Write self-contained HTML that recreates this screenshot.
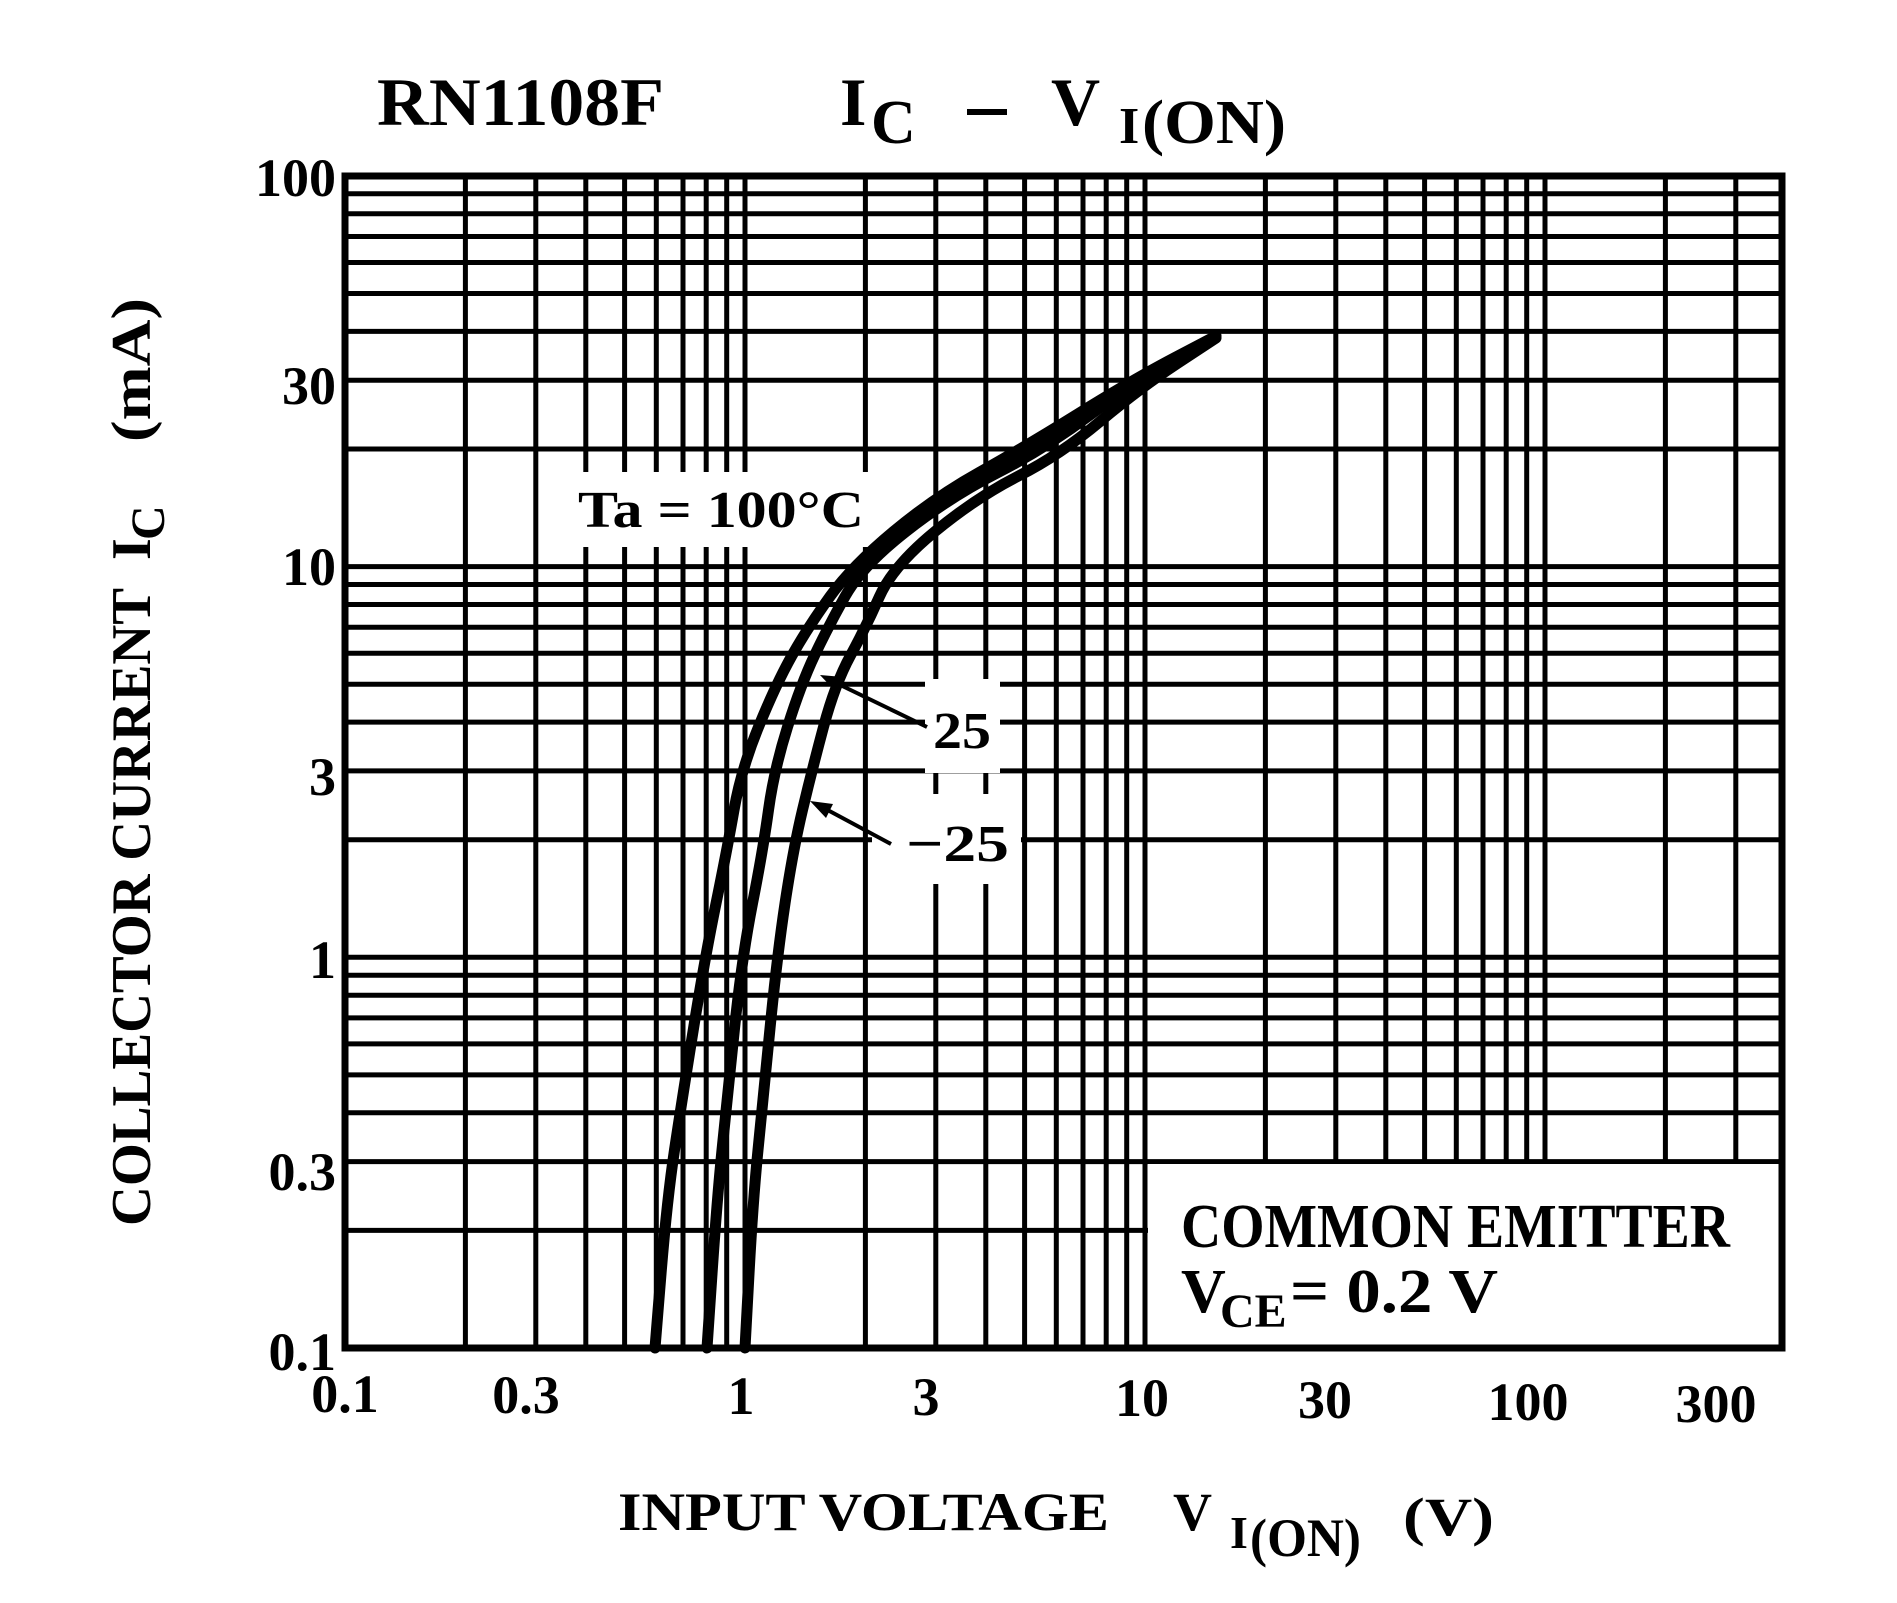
<!DOCTYPE html>
<html><head><meta charset="utf-8"><style>
html,body{margin:0;padding:0;background:#fff;}
svg{display:block;}
text{font-family:"Liberation Serif",serif;font-weight:bold;fill:#000;}
</style></head><body>
<svg width="1897" height="1603" viewBox="0 0 1897 1603" xmlns="http://www.w3.org/2000/svg">
<rect width="1897" height="1603" fill="#fff"/>
<g stroke="#000" stroke-width="5" fill="none">
<path d="M465.4 176V1348M535.8 176V1348M585.8 176V1348M624.6 176V1348M656.3 176V1348M683 176V1348M706.2 176V1348M726.7 176V1348M745 176V1348M865.4 176V1348M935.8 176V1348M985.8 176V1348M1024.6 176V1348M1056.3 176V1348M1083 176V1348M1106.2 176V1348M1126.7 176V1348M1145 176V1348M1265.4 176V1348M1335.8 176V1348M1385.8 176V1348M1424.6 176V1348M1456.3 176V1348M1483 176V1348M1506.2 176V1348M1526.7 176V1348M1545 176V1348M1665.4 176V1348M1735.8 176V1348"/>
<path d="M345 1230.4H1782M345 1161.6H1782M345 1112.8H1782M345 1074.9H1782M345 1043.9H1782M345 1017.9H1782M345 995.2H1782M345 975.2H1782M345 957.3H1782M345 839.7H1782M345 770.9H1782M345 722.1H1782M345 684.2H1782M345 653.2H1782M345 627.2H1782M345 604.5H1782M345 584.5H1782M345 566.6H1782M345 449H1782M345 380.2H1782M345 331.4H1782M345 293.5H1782M345 262.5H1782M345 236.5H1782M345 213.8H1782M345 193.8H1782"/>
</g>
<g fill="#fff">
<rect x="570" y="472" width="310" height="75"/>
<rect x="925" y="679" width="75" height="94"/>
<rect x="872" y="794" width="149" height="90"/>
<rect x="1148" y="1164" width="631" height="182"/>
</g>
<rect x="345" y="176" width="1437" height="1172" fill="none" stroke="#000" stroke-width="7"/>
<g fill="none" stroke="#000" stroke-width="11" stroke-linejoin="round" stroke-linecap="round">
<path d="M655,1348 L661,1274 Q667,1200 674.5,1150 Q682,1100 693.5,1028.5 Q705,957 716,903.5 Q727,850 734,810 Q741,770 758.5,727 Q776,684 792,655.5 Q808,627 830,596.5 Q852,566 893.5,531.5 Q935,497 979,472.5 Q1023,448 1078.5,413.5 Q1134,379 1175,357.5 L1216,336"/>
<path d="M707,1348 L712,1274 Q717,1200 722,1150 Q727,1100 734.5,1028.5 Q742,957 752.5,903.5 Q763,850 768.5,810 Q774,770 787.5,727 Q801,684 814.5,655.5 Q828,627 845,596.5 Q862,566 906,531.5 Q950,497 998,472.5 Q1046,448 1090,415 Q1134,382 1175,359 L1216,336"/>
<path d="M745,1348 L749,1274 Q753,1200 758,1150 Q763,1100 770,1028.5 Q777,957 785,903.5 Q793,850 802.5,810 Q812,770 823.5,727 Q835,684 850.5,655.5 Q866,627 879.5,596.5 Q893,566 935,531.5 Q977,497 1018.5,476 Q1060,455 1100,421.5 Q1140,388 1178,363 L1216,338"/>
</g>
<g stroke="#000" stroke-width="4" fill="#000">
<line x1="927" y1="727" x2="832" y2="681"/>
<polygon points="820,675 843,677 836,692" stroke="none"/>
<line x1="891" y1="844" x2="822" y2="807"/>
<polygon points="810,801 833,804 826,818" stroke="none"/>
</g>
<text x="578" y="527" font-size="52" textLength="286" lengthAdjust="spacingAndGlyphs">Ta = 100°C</text>
<text x="933" y="748" font-size="52" textLength="58" lengthAdjust="spacingAndGlyphs">25</text>
<text x="906" y="861" font-size="52" textLength="103" lengthAdjust="spacingAndGlyphs">−25</text>
<text x="1181" y="1247" font-size="62" textLength="549" lengthAdjust="spacingAndGlyphs">COMMON EMITTER</text>
<text x="1181" y="1312" font-size="62">V</text>
<text x="1220" y="1327" font-size="48">CE</text>
<text x="1290" y="1312" font-size="62" textLength="208" lengthAdjust="spacingAndGlyphs">= 0.2 V</text>
<text x="377" y="125" font-size="68" textLength="287" lengthAdjust="spacingAndGlyphs">RN1108F</text>
<text x="840" y="125" font-size="68">I</text>
<text x="871" y="143" font-size="62">C</text>
<rect x="967" y="109" width="40" height="6" fill="#000"/>
<text x="1051" y="125" font-size="68">V</text>
<text x="1119" y="143" font-size="52">I</text>
<text x="1142" y="143" font-size="62" textLength="144" lengthAdjust="spacingAndGlyphs">(ON)</text>
<g font-size="54" text-anchor="end">
<text x="336" y="196">100</text>
<text x="336" y="404">30</text>
<text x="336" y="585">10</text>
<text x="336" y="795">3</text>
<text x="336" y="978">1</text>
<text x="336" y="1190">0.3</text>
<text x="336" y="1370">0.1</text>
</g>
<g font-size="54" text-anchor="middle">
<text x="345" y="1412">0.1</text>
<text x="526" y="1413">0.3</text>
<text x="741" y="1414">1</text>
<text x="926" y="1415">3</text>
<text x="1142" y="1416">10</text>
<text x="1325" y="1418">30</text>
<text x="1528" y="1420">100</text>
<text x="1716" y="1422">300</text>
</g>
<text x="618" y="1530" font-size="54" textLength="491" lengthAdjust="spacingAndGlyphs">INPUT VOLTAGE</text>
<text x="1173" y="1530" font-size="54">V</text>
<text x="1230" y="1548" font-size="46">I</text>
<text x="1250" y="1556" font-size="54" textLength="111" lengthAdjust="spacingAndGlyphs">(ON)</text>
<text x="1403" y="1535" font-size="54" textLength="91" lengthAdjust="spacingAndGlyphs">(V)</text>
<g transform="translate(150,0) rotate(-90)">
<text x="-1226" y="0" font-size="56" textLength="638" lengthAdjust="spacingAndGlyphs">COLLECTOR CURRENT</text>
<text x="-560" y="0" font-size="56">I</text>
<text x="-540" y="14" font-size="48">C</text>
<text x="-442" y="0" font-size="56" textLength="144" lengthAdjust="spacingAndGlyphs">(mA)</text>
</g>
</svg>
</body></html>
